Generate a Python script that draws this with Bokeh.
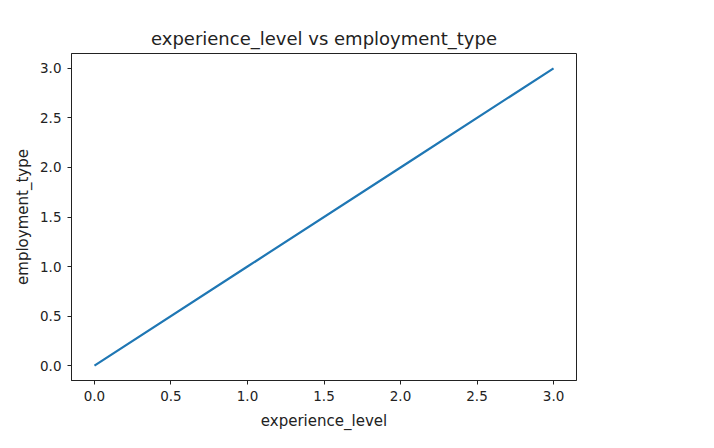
from bokeh.plotting import figure
from bokeh.embed import file_html
from bokeh.resources import INLINE
from bokeh.models import Range1d, FixedTicker, NumeralTickFormatter

experience_level = [0, 1, 2, 3]
employment_type = [0, 1, 2, 3]
ticks = [0.0, 0.5, 1.0, 1.5, 2.0, 2.5, 3.0]

FONT = "DejaVu Sans"

p = figure(width=610, height=440, output_backend="svg", toolbar_location=None,
           x_range=Range1d(-0.15, 3.15), y_range=Range1d(-0.15, 3.15),
           min_border_left=71, min_border_right=34, min_border_top=53, min_border_bottom=60,
           title="experience_level vs employment_type")
p.line(experience_level, employment_type, line_color="#1f77b4", line_width=2.2)

p.grid.visible = False
p.outline_line_color = "#222222"
p.outline_line_width = 1
p.title.align = "center"
p.title.text_font = FONT
p.title.text_font_size = "18px"
p.title.text_font_style = "normal"
p.title.text_color = "#222222"
p.title.offset = 0
p.title.standoff = 10

for ax in (p.xaxis[0], p.yaxis[0]):
    ax.ticker = FixedTicker(ticks=ticks)
    ax.formatter = NumeralTickFormatter(format="0.0")
    ax.minor_tick_line_color = None
    ax.major_tick_in = 0
    ax.major_tick_out = 4
    ax.major_tick_line_color = "#222222"
    ax.axis_line_color = "#222222"
    ax.major_label_text_font = FONT
    ax.major_label_text_font_size = "13.5px"
    ax.major_label_text_color = "#222222"
    ax.axis_label_text_font = FONT
    ax.axis_label_text_font_size = "15px"
    ax.axis_label_text_font_style = "normal"
    ax.axis_label_text_color = "#222222"
p.xaxis.axis_label = "experience_level"
p.yaxis.axis_label = "employment_type"
p.xaxis.major_label_standoff = 6
p.yaxis.major_label_standoff = 6
p.xaxis.axis_label_standoff = 8
p.yaxis.axis_label_standoff = 5

open("out.html", "w").write(file_html(p, INLINE))
